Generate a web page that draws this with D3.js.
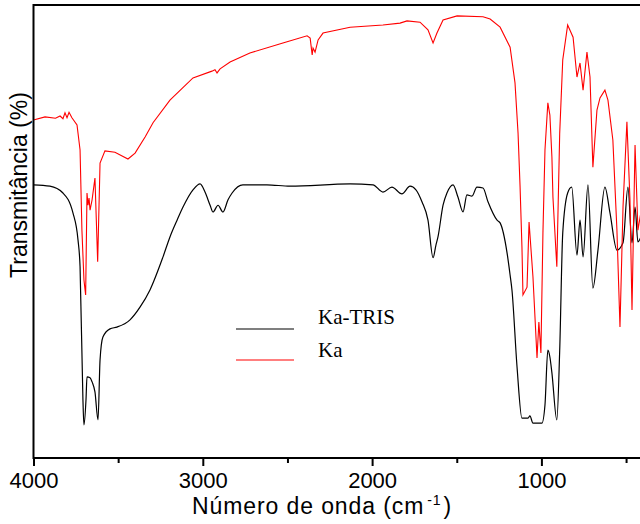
<!DOCTYPE html>
<html lang="pt">
<head>
<meta charset="UTF-8">
<title>FTIR Ka / Ka-TRIS</title>
<script src="https://d3js.org/d3.v7.min.js"></script>
<style>
  body { margin: 0; background: #fff; }
  svg { display: block; }
  .tick-label { font-family: "Liberation Sans", Arial, sans-serif; font-size: 22px; }
  .axis-title { font-family: "Liberation Sans", Arial, sans-serif; font-size: 23px; }
  .legend-text { font-family: "Liberation Serif", "Times New Roman", serif; font-size: 21px; }
</style>
</head>
<body>
<div id="chart"></div>
<script>
// wavenumber (cm-1) and transmittance (arbitrary %, offset spectra)
const kaWn = [4000, 3932, 3870, 3843, 3826, 3814, 3802, 3790, 3784, 3773, 3743, 3725, 3714, 3702, 3692,
  3684, 3678, 3672, 3666, 3654, 3637, 3621, 3607, 3578, 3519, 3442, 3400, 3340, 3294, 3194, 3058, 2946,
  2928, 2916, 2898, 2839, 2722, 2527, 2384, 2366, 2354, 2349, 2337, 2319, 2290, 2130, 1936, 1835,
  1794, 1717, 1670, 1640, 1617, 1581, 1498, 1345, 1303, 1244, 1185, 1156, 1138, 1126, 1115, 1109,
  1085, 1073, 1050, 1026, 1015, 1003, 991, 979, 962, 950, 938, 932, 909, 892, 874, 845, 813, 790,
  772, 754, 731, 713, 696, 672, 654, 625, 607, 578, 554, 536, 518, 495, 477, 465, 447, 430, 400];
const kaT = [74.6, 75.3, 75.0, 75.5, 74.9, 76.2, 75.1, 76.3, 75.9, 75.1, 73.5, 68.0, 50.3, 39.3, 36.0,
  58.5, 55.8, 57.4, 54.7, 57.0, 61.8, 43.3, 65.1, 67.8, 67.5, 66.0, 67.3, 70.9, 74.0, 79.0, 83.9, 85.4,
  85.7, 85.0, 85.9, 87.4, 89.4, 91.6, 93.2, 92.7, 89.0, 90.5, 89.6, 92.3, 93.8, 95.1, 95.6, 96.0,
  96.5, 96.2, 94.5, 91.6, 93.8, 96.7, 97.6, 97.4, 96.9, 95.1, 90.7, 82.8, 71.7, 59.8, 46.6, 36.0,
  37.7, 52.1, 40.0, 22.1, 30.0, 23.2, 49.7, 68.0, 78.4, 75.7, 66.4, 57.6, 42.2, 71.7, 87.9, 95.6, 92.9, 84.1,
  87.2, 81.2, 89.6, 84.1, 64.2, 76.8, 79.5, 81.2, 79.0, 70.2, 50.3, 28.9, 55.4, 74.2, 57.0, 32.7, 69.1, 50.3, 57.0];

const trisWn = [4000, 3903, 3826, 3767, 3737, 3725, 3708, 3702, 3690, 3684, 3666, 3654, 3637, 3619, 3607,
  3590, 3548, 3507, 3430, 3371, 3312, 3235, 3194, 3152, 3117, 3058, 3016, 2987, 2957, 2940, 2910,
  2881, 2851, 2827, 2763, 2621, 2485, 2130, 1995, 1936, 1883, 1824, 1776, 1741, 1705, 1670, 1640,
  1623, 1611, 1581, 1558, 1522, 1493, 1463, 1440, 1410, 1381, 1345, 1315, 1262, 1244, 1203, 1185,
  1174, 1144, 1115, 1079, 1068, 1050, 997, 979, 962, 950, 938, 909, 892, 874, 845, 821, 790, 772,
  754, 725, 696, 666, 625, 595, 554, 518, 489, 465, 447, 430, 400];
const trisT = [60.3, 60.0, 58.5, 54.1, 48.1, 42.2, 12.8, 7.3, 12.8, 17.9, 17.7, 16.8, 14.6, 8.4, 21.6,
  26.7, 28.5, 28.9, 30.5, 33.3, 37.1, 44.4, 48.8, 52.5, 55.4, 59.2, 60.5, 58.7, 55.8, 54.3, 55.8,
  54.3, 57.0, 58.5, 60.3, 60.3, 60.0, 60.5, 60.3, 58.7, 59.8, 58.3, 60.0, 59.2, 56.5, 52.5, 44.2,
  47.0, 48.8, 55.8, 58.5, 60.3, 57.6, 54.3, 58.1, 57.8, 59.8, 59.6, 56.5, 52.5, 51.9, 45.3, 40.4,
  37.1, 20.1, 8.8, 8.8, 9.3, 7.7, 7.7, 11.7, 23.8, 22.3, 18.8, 8.4, 23.8, 49.7, 58.5, 59.8, 44.8, 52.5,
  44.4, 60.3, 37.5, 45.9, 59.8, 54.1, 45.9, 47.5, 59.8, 47.5, 55.4, 47.7, 50.3];

const majorTicks = [4000, 3000, 2000, 1000];
const minorTicks = [3500, 2500, 1500, 500];
const legendNames = ["Ka-TRIS", "Ka"];
const legendColors = ["#000000", "#ff0000"];

const width = 640, height = 524;
const mLeft = 33.5, mRight = 643, mTop = 5, mBottom = 458;

const svg = d3.select("#chart").append("svg").attr("width", width).attr("height", height);

const x = d3.scaleLinear().domain([4000, 400]).range([mLeft, mRight]);
const y = d3.scaleLinear().domain([0, 100]).range([mBottom, mTop]);

const tris = trisWn.map((w, i) => [w, trisT[i]]);
const ka = kaWn.map((w, i) => [w, kaT[i]]);

svg.append("path")
  .datum(tris)
  .attr("fill", "none")
  .attr("stroke", legendColors[0])
  .attr("stroke-width", 1.2)
  .attr("d", d3.line().x(d => x(d[0])).y(d => y(d[1])).curve(d3.curveMonotoneX));

svg.append("path")
  .datum(ka)
  .attr("fill", "none")
  .attr("stroke", legendColors[1])
  .attr("stroke-width", 1.1)
  .attr("d", d3.line().x(d => x(d[0])).y(d => y(d[1])));

// frame
svg.append("rect")
  .attr("x", mLeft).attr("y", mTop)
  .attr("width", mRight - mLeft).attr("height", mBottom - mTop)
  .attr("fill", "none").attr("stroke", "#000").attr("stroke-width", 2);

// x axis ticks
const xAxis = svg.append("g").attr("transform", `translate(0,${mBottom})`)
  .call(d3.axisBottom(x).tickValues(majorTicks).tickSize(8).tickPadding(6).tickFormat(d3.format("d")));
xAxis.select(".domain").remove();
xAxis.selectAll("line").attr("stroke-width", 2);
xAxis.selectAll("text").attr("class", "tick-label").attr("fill", "#000");
xAxis.attr("font-size", null).attr("font-family", null);

const xMinor = svg.append("g").attr("transform", `translate(0,${mBottom})`)
  .call(d3.axisBottom(x).tickValues(minorTicks).tickSize(5).tickFormat(""));
xMinor.select(".domain").remove();
xMinor.selectAll("line").attr("stroke-width", 2);

// titles
const xt = svg.append("text").attr("class", "axis-title")
  .attr("x", 322).attr("y", 514).attr("text-anchor", "middle")
  .attr("letter-spacing", 0.9);
xt.append("tspan").text("Número de onda (cm");
xt.append("tspan").attr("dx", 3).attr("dy", -9).attr("font-size", 14).text("-1");
xt.append("tspan").attr("dx", 2).attr("dy", 9).text(")");

svg.append("text").attr("class", "axis-title")
  .attr("transform", "translate(27,185) rotate(-90)")
  .attr("text-anchor", "middle")
  .attr("font-size", "23.5px")
  .text("Transmitância (%)");

// legend
const legend = svg.append("g");
legendNames.forEach((name, i) => {
  const ly = 329 + i * 31;
  legend.append("line").attr("x1", 236).attr("x2", 294).attr("y1", ly).attr("y2", ly)
    .attr("stroke", legendColors[i]).attr("stroke-width", 1.2);
  legend.append("text").attr("class", "legend-text")
    .attr("x", 318).attr("y", ly - 5 + i * 2).text(name);
});
</script>
</body>
</html>
